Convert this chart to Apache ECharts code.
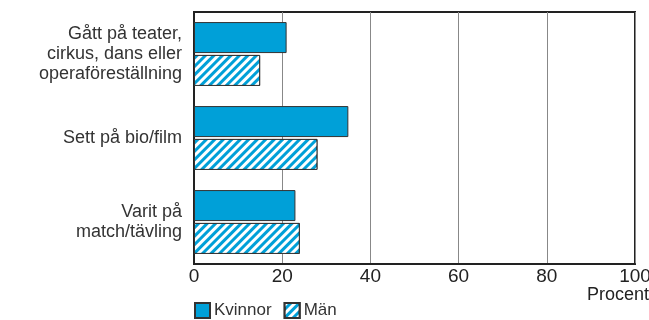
<!DOCTYPE html>
<html>
<head>
<meta charset="utf-8">
<script src="https://cdn.jsdelivr.net/npm/echarts@6/dist/echarts.min.js"></script>
<style>
  html, body { margin: 0; padding: 0; background: #fff; }
  #chart { width: 649px; height: 320px; }
</style>
</head>
<body>
<div id="chart"></div>
<script>
// data
const categories = ['Gått på teater,\ncirkus, dans eller\noperaföreställning', 'Sett på bio/film', 'Varit på\nmatch/tävling']
const kvinnor = [21, 35, 23]
const man = [15, 28, 24]
const xTicks = [0, 20, 40, 60, 80, 100]

const BLUE = '#00a0d8'
const FONT = '"Liberation Sans", Arial, sans-serif'

const chart = echarts.init(document.getElementById('chart'))

// white diagonal stripes on blue for Män
const hatch = {
  symbol: 'rect',
  color: '#ffffff',
  dashArrayX: [1, 0],
  dashArrayY: [3, 3],
  symbolSize: 1,
  rotation: -Math.PI / 4
}

chart.setOption({
  animation: false,
  textStyle: { fontFamily: FONT },
  grid: {
    left: 194,
    right: 14,
    top: 12,
    bottom: 56,
    outerBoundsMode: 'none',
    containLabel: false,
    show: true,
    borderColor: '#222',
    borderWidth: 2,
    backgroundColor: 'transparent'
  },
  legend: {
    left: 189,
    top: 297,
    itemWidth: 15,
    itemHeight: 15,
    itemGap: 12,
    icon: 'rect',
    textStyle: { fontSize: 17, color: '#333', fontFamily: FONT, padding: [0, 0, 0, -1] },
    data: ['Kvinnor', 'Män']
  },
  xAxis: {
    type: 'value',
    min: 0,
    max: 100,
    interval: 20,
    axisLine: { show: true, lineStyle: { color: '#222', width: 2 } },
    axisTick: { show: false },
    axisLabel: {
      fontSize: 19,
      color: '#222',
      margin: 3,
      formatter: v => xTicks.includes(v) ? String(v) : ''
    },
    splitLine: { show: true, lineStyle: { color: '#888', width: 1 } }
  },
  yAxis: {
    type: 'category',
    inverse: true,
    data: categories,
    axisLine: { show: true, lineStyle: { color: '#222', width: 2 } },
    axisTick: { show: false },
    axisLabel: {
      fontSize: 18,
      color: '#333',
      margin: 12,
      lineHeight: 20,
      align: 'right'
    }
  },
  graphic: [{
    type: 'text',
    right: 0,
    top: 286,
    style: { text: 'Procent', font: '18px ' + FONT, fill: '#222' }
  }],
  series: [
    {
      name: 'Kvinnor',
      type: 'bar',
      data: kvinnor,
      barWidth: 31,
      barGap: '6%',
      itemStyle: { color: BLUE, borderColor: '#333', borderWidth: 1 }
    },
    {
      name: 'Män',
      type: 'bar',
      data: man,
      barWidth: 31,
      itemStyle: { color: BLUE, borderColor: '#333', borderWidth: 1, decal: hatch }
    }
  ]
})
</script>
</body>
</html>
